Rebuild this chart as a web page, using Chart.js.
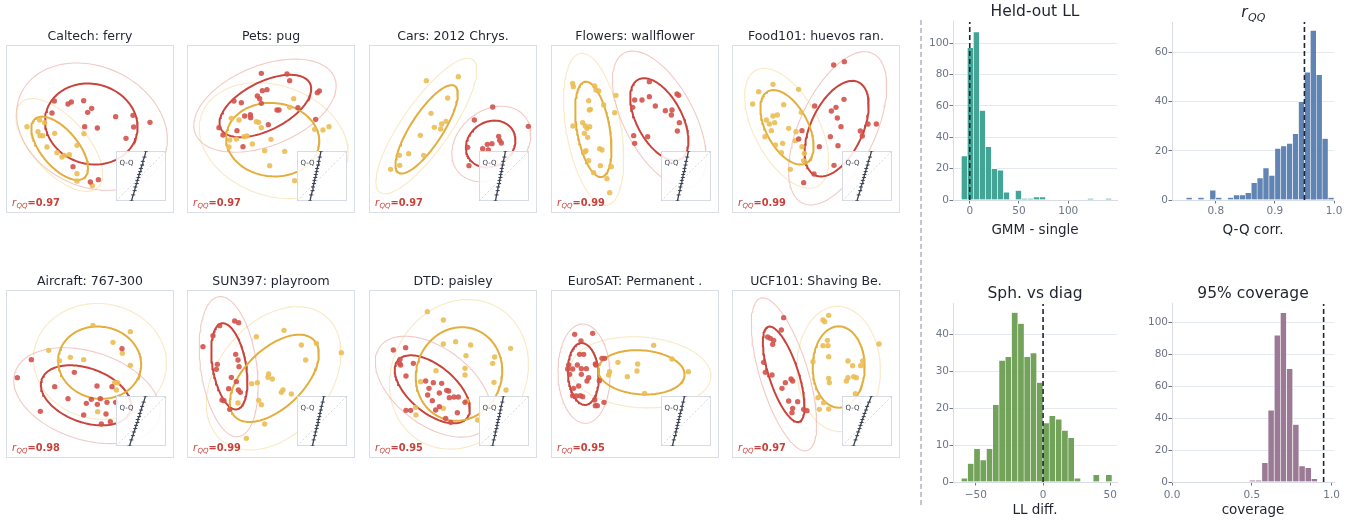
<!DOCTYPE html>
<html>
<head>
<meta charset="utf-8">
<title>Per-class Gaussian fits and diagnostics</title>
<script src="https://cdn.jsdelivr.net/npm/chart.js@4.4.1/dist/chart.umd.min.js"></script>
<style>
  html, body { margin: 0; padding: 0; background: #ffffff; }
  body { width: 1364px; height: 520px; position: relative; overflow: hidden; }
  canvas { position: absolute; display: block; }
  #divider { position: absolute; left: 920px; top: 20px; width: 2px; height: 486px;
    background: repeating-linear-gradient(to bottom, #c3c8d0 0 5px, transparent 5px 8px); }
</style>
</head>
<body>
<div id="divider"></div>
<script>
// ---------- class-pair panels: 2-D projections of two classes ----------
const panelTitles = ['Caltech: ferry', 'Pets: pug', 'Cars: 2012 Chrys.', 'Flowers: wallflower', 'Food101: huevos ran.',
  'Aircraft: 767-300', 'SUN397: playroom', 'DTD: paisley', 'EuroSAT: Permanent .', 'UCF101: Shaving Be.'];
const rQQ = [0.97, 0.97, 0.97, 0.99, 0.99, 0.98, 0.99, 0.95, 0.95, 0.97];

// points [x, y] in projection units (y grows downward), per class
const caltechRed = [[145,168],[186,177],[196,171],[233,167],[257,190],[245,202],[138,204],[329,215],[381,211],[432,232],[236,245],[274,249],[383,246],[360,280],[201,365],[253,411],[277,404]];
const caltechGold = [[63,245],[101,225],[116,233],[96,260],[102,272],[110,272],[146,265],[234,266],[123,306],[153,323],[168,336],[190,329],[213,301],[175,331],[213,386],[213,408],[259,422]];
const petsRed = [[223,85],[300,87],[308,107],[226,137],[240,134],[211,153],[218,161],[223,175],[163,173],[141,168],[270,195],[276,195],[190,209],[191,218],[173,213],[150,257],[96,248],[108,270],[244,239],[168,305],[391,143],[397,138],[386,223],[333,188]];
const petsGold = [[320,161],[308,187],[133,220],[156,225],[208,230],[215,232],[223,248],[171,275],[180,273],[148,282],[128,285],[196,297],[252,283],[126,306],[233,317],[293,319],[248,362],[323,407],[383,253],[408,255],[426,245]];
const carsRed = [[371,186],[316,225],[478,244],[389,274],[392,286],[397,294],[369,296],[355,298],[341,311],[358,315],[296,307],[300,362]];
const carsGold = [[172,107],[268,95],[236,159],[186,205],[231,229],[218,237],[196,247],[215,252],[154,271],[91,331],[119,326],[164,331],[92,361],[65,373]];
const flowersRed = [[295,110],[251,165],[273,165],[295,155],[313,183],[343,197],[363,195],[361,210],[378,147],[383,151],[245,187],[385,233],[379,258],[248,272],[290,275],[251,295]];
const flowersGold = [[65,115],[67,125],[131,123],[135,135],[143,138],[113,167],[118,193],[115,195],[158,180],[195,151],[191,203],[95,233],[66,243],[103,243],[108,250],[116,245],[100,265],[110,277],[105,317],[101,321],[146,311],[153,315],[113,347],[148,362],[181,365],[128,383],[168,401],[176,443]];
const foodRed = [[305,60],[337,50],[336,163],[312,187],[298,198],[316,219],[327,245],[385,258],[391,273],[408,237],[433,237],[295,275],[262,305],[318,302],[248,183],[210,257],[200,282],[306,361],[246,387],[215,413]];
const foodGold = [[123,118],[80,140],[200,133],[62,177],[155,179],[103,225],[123,213],[136,210],[112,237],[128,233],[118,257],[99,275],[130,300],[152,295],[148,323],[170,250],[192,260],[190,287],[210,305],[217,325],[215,347],[175,373],[208,202]];
const aircraftRed = [[348,176],[76,209],[34,263],[205,247],[146,290],[273,288],[318,290],[186,326],[241,340],[256,328],[274,343],[283,326],[303,337],[329,337],[233,375],[300,372],[313,395],[286,402],[103,364]];
const aircraftGold = [[261,106],[373,125],[321,157],[349,190],[128,181],[160,212],[193,202],[233,209],[373,226],[326,278],[335,278],[331,300],[275,365]];
const sunRed = [[48,170],[78,137],[98,107],[143,93],[155,98],[91,223],[88,238],[153,210],[156,230],[146,193],[133,262],[148,275],[125,296],[154,300],[160,307],[105,330],[111,332],[128,358]];
const sunGold = [[208,140],[291,121],[343,165],[388,160],[463,188],[356,210],[245,252],[243,262],[256,267],[211,278],[194,281],[288,300],[283,307],[313,312],[215,331],[223,344],[153,339],[233,402],[178,445]];
const dtdRed = [[73,180],[110,173],[93,208],[91,220],[95,225],[133,220],[111,258],[170,273],[193,278],[218,280],[180,295],[233,301],[239,303],[211,309],[176,315],[241,323],[255,321],[268,321],[288,337],[190,332],[211,350],[111,361],[125,361],[200,360],[265,368],[230,385],[245,397]];
const dtdGold = [[175,65],[223,90],[223,162],[260,155],[305,165],[425,175],[291,197],[377,201],[371,220],[288,235],[288,255],[201,242],[155,275],[375,277],[411,300],[293,333],[140,352],[141,375],[223,355],[326,390]];
const euroRed = [[71,133],[125,130],[90,153],[86,193],[98,193],[53,225],[50,237],[56,253],[65,237],[79,225],[91,236],[106,236],[91,253],[113,263],[108,273],[133,222],[135,225],[153,205],[161,205],[145,272],[83,288],[68,295],[65,317],[76,318],[88,317],[95,320],[131,330],[159,337],[133,347],[139,347]];
const euroGold = [[308,166],[363,207],[412,245],[201,217],[260,222],[258,243],[229,260],[176,245],[173,255],[281,310]];
const ucfRed = [[155,83],[148,120],[107,141],[115,145],[125,151],[122,163],[95,217],[100,247],[120,255],[177,267],[182,273],[160,278],[150,295],[170,333],[197,335],[182,355],[215,358],[225,362],[180,368]];
const ucfGold = [[290,76],[273,90],[278,95],[286,151],[273,167],[288,167],[441,162],[290,200],[243,215],[348,213],[392,213],[386,227],[362,227],[365,260],[348,263],[343,273],[373,263],[290,265],[292,278],[370,311],[258,323],[275,338],[262,358],[290,357]];

// fitted Gaussians per class: [cx, cy, semi-axis a, semi-axis b, angle deg]; first = inner contour, second = outer contour
const caltechRedEll = [[256,237,140,120,15],[258,245,235,180,25]];
const caltechGoldEll = [[161,310,115,55,50],[160,300,172,82,48]];
const petsRedEll = [[235,183,150,72,-27],[234,182,225,120,-22]];
const petsGoldEll = [[257,284,140,110,5],[260,287,230,165,20]];
const carsRedEll = [[365,297,78,66,-35],[367,297,130,100,-40]];
const carsGoldEll = [[173,253,155,48,-57],[172,243,243,72,-55]];
const flowersRedEll = [[325,223,135,68,62],[325,223,225,105,62]];
const flowersGoldEll = [[127,253,145,49,80],[128,253,231,82,80]];
const foodRedEll = [[314,251,154,78,-65],[317,250,248,114,-65]];
const foodGoldEll = [[165,247,122,63,62],[164,250,197,97,62]];
const aircraftRedEll = [[240,316,141,81,20],[243,317,227,132,18]];
const aircraftGoldEll = [[281,218,125,108,10],[282,214,200,173,8]];
const sunRedEll = [[127,229,131,50,80],[125,230,212,84,82]];
const sunGoldEll = [[262,265,165,88,-44],[260,265,243,167,-50]];
const dtdRedEll = [[190,298,135,70,40],[193,290,200,115,37]];
const dtdGoldEll = [[270,252,142,128,-70],[270,253,232,200,-60]];
const euroRedEll = [[97,252,93,46,86],[99,251,149,78,88]];
const euroGoldEll = [[271,247,130,66,4],[269,247,211,106,4]];
const ucfRedEll = [[155,253,150,44,72],[156,253,239,72,73]];
const ucfGoldEll = [[320,231,122,78,90],[320,237,188,125,88]];

// Q-Q insets: theoretical quantiles (vertical) and sample quantiles (horizontal) per panel
const qqTheory = [-2.05,-1.55,-1.2,-0.9,-0.62,-0.36,-0.12,0.12,0.36,0.62,0.9,1.2,1.55,2.05];
const caltechQQ = [-0.78,-0.64,-0.52,-0.46,-0.35,-0.30,-0.21,-0.16,-0.07,-0.01,0.09,0.15,0.28,0.41];
const petsQQ = [-0.98,-0.88,-0.78,-0.74,-0.66,-0.62,-0.55,-0.51,-0.44,-0.40,-0.32,-0.27,-0.18,-0.08];
const carsQQ = [-0.70,-0.61,-0.52,-0.48,-0.40,-0.37,-0.30,-0.28,-0.21,-0.18,-0.10,-0.06,0.03,0.12];
const flowersQQ = [-0.70,-0.60,-0.50,-0.46,-0.38,-0.34,-0.26,-0.23,-0.16,-0.12,-0.04,0.01,0.10,0.20];
const foodQQ = [-0.82,-0.68,-0.56,-0.50,-0.39,-0.34,-0.25,-0.20,-0.11,-0.06,0.05,0.11,0.24,0.37];
const aircraftQQ = [-0.94,-0.79,-0.66,-0.58,-0.47,-0.41,-0.31,-0.26,-0.16,-0.10,0.01,0.09,0.22,0.37];
const sunQQ = [-0.78,-0.68,-0.58,-0.53,-0.44,-0.40,-0.33,-0.29,-0.22,-0.18,-0.09,-0.04,0.06,0.16];
const dtdQQ = [-0.94,-0.84,-0.74,-0.70,-0.62,-0.58,-0.51,-0.47,-0.40,-0.36,-0.28,-0.24,-0.14,-0.04];
const euroQQ = [-1.11,-1.00,-0.90,-0.84,-0.75,-0.71,-0.63,-0.60,-0.52,-0.48,-0.39,-0.33,-0.23,-0.12];
const ucfQQ = [-1.11,-0.94,-0.81,-0.72,-0.61,-0.54,-0.44,-0.38,-0.27,-0.20,-0.08,0.01,0.17,0.37];

// ---------- summary histograms ----------
const heldOutBins = [-5.45,0.65,6.75,12.85,18.95,25.05,31.15,37.25,43.35,49.45,55.55,61.65,67.75,73.85,79.95,86.05,92.15,98.25,104.35,110.45,116.55,122.65,128.75,134.85,140.95];
const heldOutCounts = [28,97,107,57,34,20,19,5,0,6,1,1,2,2,0,0,0,0,0,0,0,1,0,0,1];
const rqqBins = [0.755,0.765,0.775,0.785,0.795,0.805,0.815,0.825,0.835,0.845,0.855,0.865,0.875,0.885,0.895,0.905,0.915,0.925,0.935,0.945,0.955,0.965,0.975,0.985,0.995];
const rqqCounts = [1,0,1,0,4,1,0,1,2,2,3,7,9,13,10,21,22,23,27,40,52,69,51,25,1];
const sphBins = [-58.47,-53.8,-49.13,-44.46,-39.79,-35.12,-30.45,-25.78,-21.11,-16.44,-11.77,-7.1,-2.43,2.24,6.91,11.58,16.25,20.92,25.59,30.26,34.93,39.6,44.27,48.94];
const sphCounts = [1,5,9,6,9,21,33,34,46,43,34,35,27,16,18,17,14,12,1,0,0,2,0,2];
const coverageBins = [0.504,0.543,0.582,0.621,0.660,0.698,0.737,0.776,0.815,0.854,0.892];
const coverageCounts = [1,1,12,45,92,106,71,36,10,9,2];
const referenceLines = { heldOut: 0, rqq: 0.95, sph: 0, coverage: 0.95 };

// ---------- styling ----------
const FONT = "'DejaVu Sans', 'Liberation Sans', sans-serif";
const TITLE_COLOR = '#1f2430';
const TICK_COLOR = '#6c7587';
const FRAME_COLOR = '#d9dee7';
const RED_PT = 'rgba(212,82,74,0.9)';
const GOLD_PT = 'rgba(235,190,84,0.9)';
const RED_INNER = '#c8443c';
const GOLD_INNER = '#e2ae3e';
const RED_OUTER = 'rgba(214,100,90,0.35)';
const GOLD_OUTER = 'rgba(238,196,100,0.38)';
const BOX_LEFT = [6, 187, 369, 551, 732];
const BOX_TOP = [45, 290];

Chart.defaults.font.family = FONT;
Chart.defaults.animation = false;
Chart.defaults.events = [];
Chart.defaults.layout.autoPadding = false;
Chart.defaults.plugins.legend.display = false;
Chart.defaults.plugins.tooltip.enabled = false;

function addCanvas(left, top, w, h) {
  const c = document.createElement('canvas');
  c.width = w; c.height = h;
  c.style.left = left + 'px'; c.style.top = top + 'px';
  c.style.width = w + 'px'; c.style.height = h + 'px';
  document.body.appendChild(c);
  return c;
}

// outline of a fitted ellipse in data coordinates
function ellipseOutline(p) {
  const [cx, cy, a, b, deg] = p;
  const r = deg * Math.PI / 180, out = [];
  for (let k = 0; k <= 120; k++) {
    const t = k / 120 * 2 * Math.PI;
    out.push({
      x: cx + a * Math.cos(t) * Math.cos(r) - b * Math.sin(t) * Math.sin(r),
      y: cy + a * Math.cos(t) * Math.sin(r) + b * Math.sin(t) * Math.cos(r)
    });
  }
  return out;
}

const framePlugin = {
  id: 'frame',
  afterDraw(chart, args, o) {
    const { ctx, chartArea: a } = chart;
    ctx.save();
    ctx.strokeStyle = o.color || FRAME_COLOR;
    ctx.lineWidth = 1;
    ctx.strokeRect(Math.round(a.left) + 0.5, Math.round(a.top) + 0.5, Math.round(a.width) - 1, Math.round(a.height) - 1);
    ctx.restore();
  }
};

const rqqLabelPlugin = {
  id: 'rqqLabel',
  afterDatasetsDraw(chart, args, o) {
    const { ctx, chartArea: a } = chart;
    ctx.save();
    ctx.fillStyle = '#c8423b';
    ctx.textBaseline = 'alphabetic';
    let x = a.left + 6;
    const y = a.bottom - 7.3;
    ctx.font = `italic 10px ${FONT}`;
    ctx.fillText('r', x, y); x += ctx.measureText('r').width + 0.3;
    ctx.font = `italic 7px ${FONT}`;
    ctx.fillText('QQ', x, y + 2.4); x += ctx.measureText('QQ').width;
    ctx.font = `bold 9.8px ${FONT}`;
    ctx.fillText('=' + o.value.toFixed(2), x, y);
    ctx.restore();
  }
};

const qqBoxPlugin = {
  id: 'qqBox',
  beforeDatasetsDraw(chart) {
    const { ctx, width, height } = chart;
    ctx.save();
    ctx.fillStyle = 'rgba(255,255,255,0.88)';
    ctx.fillRect(0, 0, width, height);
    ctx.strokeStyle = '#d6dbe4';
    ctx.lineWidth = 1;
    ctx.strokeRect(0.5, 0.5, width - 1, height - 1);
    ctx.fillStyle = '#3d4452';
    ctx.font = `7px ${FONT}`;
    ctx.textBaseline = 'alphabetic';
    ctx.fillText('Q-Q', 3.5, 13.5);
    ctx.restore();
  }
};

function drawPanel(i, p) {
  const col = i % 5, row = Math.floor(i / 5);
  const bx = BOX_LEFT[col], by = BOX_TOP[row];
  const cv = addCanvas(bx - 1, by - 16, 170, 186);
  const ell = (params, color, width, order) => ({
    data: ellipseOutline(params), showLine: true, borderColor: color, borderWidth: width,
    pointRadius: 0, fill: false, tension: 0, order
  });
  const pts = (arr, color, order) => ({
    data: arr.map(([x, y]) => ({ x, y })), backgroundColor: color, borderWidth: 0, pointRadius: 2.7, order
  });
  new Chart(cv, {
    type: 'scatter',
    data: { datasets: [
      ell(p.redEll[1], RED_OUTER, 1.1, 6),
      ell(p.goldEll[1], GOLD_OUTER, 1.1, 5),
      ell(p.redEll[0], RED_INNER, 2, 4),
      ell(p.goldEll[0], GOLD_INNER, 2, 3),
      pts(p.gold, GOLD_PT, 2),
      pts(p.red, RED_PT, 1)
    ] },
    options: {
      responsive: false,
      layout: { autoPadding: false, padding: { left: 1, right: 1, top: 0, bottom: 2 } },
      scales: {
        x: { type: 'linear', min: 0, max: 504, display: false },
        y: { type: 'linear', min: 0, max: 504, reverse: true, display: false }
      },
      plugins: {
        title: { display: true, text: p.title, color: TITLE_COLOR, font: { size: 12.5, weight: 'normal' }, padding: { top: 0.6, bottom: 0.4 } },
        frame: { color: FRAME_COLOR },
        rqqLabel: { value: p.r }
      }
    },
    plugins: [framePlugin, rqqLabelPlugin]
  });

  // Q-Q inset in the lower-right corner of the panel
  const qc = addCanvas(bx + 110, by + 106, 50, 50);
  new Chart(qc, {
    type: 'scatter',
    data: { datasets: [
      { data: [{ x: -2.05, y: -2.05 }, { x: 2.05, y: 2.05 }], showLine: true, borderColor: '#c9ced7',
        borderWidth: 0.8, borderDash: [2, 2], pointRadius: 0, order: 2 },
      { data: qqTheory.map((t, k) => ({ x: p.qq[k], y: t })), showLine: true, borderColor: '#3a4150',
        borderWidth: 1.3, pointStyle: 'line', pointRadius: 2, pointBorderColor: '#3a4150', pointBorderWidth: 1, order: 1 }
    ] },
    options: {
      responsive: false,
      layout: { autoPadding: false, padding: 0 },
      scales: {
        x: { type: 'linear', min: -2.05, max: 2.05, display: false },
        y: { type: 'linear', min: -2.05, max: 2.05, display: false }
      }
    },
    plugins: [qqBoxPlugin]
  });
}

const panels = [
  { red: caltechRed, gold: caltechGold, redEll: caltechRedEll, goldEll: caltechGoldEll, qq: caltechQQ },
  { red: petsRed, gold: petsGold, redEll: petsRedEll, goldEll: petsGoldEll, qq: petsQQ },
  { red: carsRed, gold: carsGold, redEll: carsRedEll, goldEll: carsGoldEll, qq: carsQQ },
  { red: flowersRed, gold: flowersGold, redEll: flowersRedEll, goldEll: flowersGoldEll, qq: flowersQQ },
  { red: foodRed, gold: foodGold, redEll: foodRedEll, goldEll: foodGoldEll, qq: foodQQ },
  { red: aircraftRed, gold: aircraftGold, redEll: aircraftRedEll, goldEll: aircraftGoldEll, qq: aircraftQQ },
  { red: sunRed, gold: sunGold, redEll: sunRedEll, goldEll: sunGoldEll, qq: sunQQ },
  { red: dtdRed, gold: dtdGold, redEll: dtdRedEll, goldEll: dtdGoldEll, qq: dtdQQ },
  { red: euroRed, gold: euroGold, redEll: euroRedEll, goldEll: euroGoldEll, qq: euroQQ },
  { red: ucfRed, gold: ucfGold, redEll: ucfRedEll, goldEll: ucfGoldEll, qq: ucfQQ }
];
panels.forEach((p, i) => drawPanel(i, Object.assign({ title: panelTitles[i], r: rQQ[i] }, p)));

// ---------- histogram panels ----------
const mathTitlePlugin = {
  id: 'mathTitle',
  afterDraw(chart, args, o) {
    if (!o.main) return;
    const { ctx, chartArea: a } = chart;
    const cx = (a.left + a.right) / 2;
    ctx.save();
    ctx.fillStyle = TITLE_COLOR;
    ctx.textBaseline = 'alphabetic';
    ctx.font = `italic 15.5px ${FONT}`;
    const w1 = ctx.measureText(o.main).width;
    ctx.font = `italic 11px ${FONT}`;
    const w2 = ctx.measureText(o.sub).width;
    const x = cx - (w1 + w2) / 2;
    ctx.font = `italic 15.5px ${FONT}`;
    ctx.fillText(o.main, x, o.baseline);
    ctx.font = `italic 11px ${FONT}`;
    ctx.fillText(o.sub, x + w1 + 0.5, o.baseline + 3.8);
    ctx.restore();
  }
};

function histogram(c) {
  const cv = addCanvas(c.left, c.top, c.w, c.h);
  const fmt = c.fmt || (v => String(v));
  new Chart(cv, {
    type: 'bar',
    data: { datasets: [
      { type: 'line', data: [{ x: c.ref, y: 0 }, { x: c.ref, y: c.ymax }], borderColor: '#1f2633',
        borderWidth: 1.6, borderDash: [5, 3], pointRadius: 0, order: 0 },
      { type: 'bar', data: c.bins.map((b, k) => ({ x: b, y: c.counts[k] })), backgroundColor: c.color,
        borderColor: '#ffffff', borderWidth: 0.6, borderSkipped: 'start',
        barPercentage: 1, categoryPercentage: 1, order: 1 }
    ] },
    options: {
      responsive: false,
      layout: { autoPadding: false, padding: { left: 0, right: 16, top: c.customTitle ? 22 : 0, bottom: 0 } },
      scales: {
        x: {
          type: 'linear', min: c.xmin, max: c.xmax, offset: false,
          grid: { display: true, drawOnChartArea: false, drawTicks: true, tickLength: 3.5, tickColor: TICK_COLOR, offset: false },
          border: { display: true, color: '#d7dce5', width: 1 },
          ticks: { stepSize: c.xstep, includeBounds: false, color: TICK_COLOR, font: { size: 10.5 }, padding: c.tickPad,
            maxRotation: 0, autoSkip: false, callback: v => fmt(v) },
          title: { display: true, text: c.xlabel, color: TITLE_COLOR, font: { size: 13.5 }, padding: { top: 0, bottom: 0 } },
          afterFit: s => { s.height = c.xh; }
        },
        y: {
          type: 'linear', min: 0, max: c.ymax,
          grid: { color: '#e4e8ef', lineWidth: 1, drawTicks: true, tickLength: 3.5, tickColor: TICK_COLOR },
          border: { display: true, color: '#d7dce5', width: 1 },
          ticks: { stepSize: c.ystep, includeBounds: false, color: TICK_COLOR, font: { size: 10.5 }, padding: 0.5 },
          afterFit: s => { s.width = 40; }
        }
      },
      plugins: {
        title: c.customTitle ? { display: false } :
          { display: true, fullSize: false, text: c.title, color: TITLE_COLOR, font: { size: 15.5, weight: 'normal' }, padding: { top: 2.5, bottom: 0.9 } },
        mathTitle: c.customTitle || {}
      }
    },
    plugins: [mathTitlePlugin]
  });
}

const minus = v => String(v).replace('-', '\u2212');
const oneDecimal = v => v.toFixed(1);

histogram({ left: 913, top: 0, w: 220, h: 239, xh: 39, tickPad: 1, title: 'Held-out LL', xlabel: 'GMM - single',
  bins: heldOutBins, counts: heldOutCounts, color: 'rgba(42,152,136,0.88)', ref: referenceLines.heldOut,
  xmin: -17, xmax: 149.5, xstep: 50, ymax: 113.4, ystep: 20, fmt: minus });
histogram({ left: 1132, top: 0, w: 218, h: 239, xh: 39, tickPad: 1, xlabel: 'Q-Q corr.',
  customTitle: { main: 'r', sub: 'QQ', baseline: 17 },
  bins: rqqBins, counts: rqqCounts, color: 'rgba(74,115,169,0.88)', ref: referenceLines.rqq,
  xmin: 0.726, xmax: 1.0, xstep: 0.1, ymax: 72.4, ystep: 20, fmt: oneDecimal });
histogram({ left: 913, top: 282, w: 220, h: 237, xh: 37, tickPad: 3, title: 'Sph. vs diag', xlabel: 'LL diff.',
  bins: sphBins, counts: sphCounts, color: 'rgba(96,150,67,0.88)', ref: referenceLines.sph,
  xmin: -67, xmax: 55, xstep: 50, ymax: 48.3, ystep: 10, fmt: minus });
histogram({ left: 1132, top: 282, w: 218, h: 237, xh: 37, tickPad: 3, title: '95% coverage', xlabel: 'coverage',
  bins: coverageBins, counts: coverageCounts, color: 'rgba(141,104,136,0.88)', ref: referenceLines.coverage,
  xmin: 0, xmax: 1.015, xstep: 0.5, ymax: 111.5, ystep: 20, fmt: oneDecimal });
</script>
</body>
</html>
